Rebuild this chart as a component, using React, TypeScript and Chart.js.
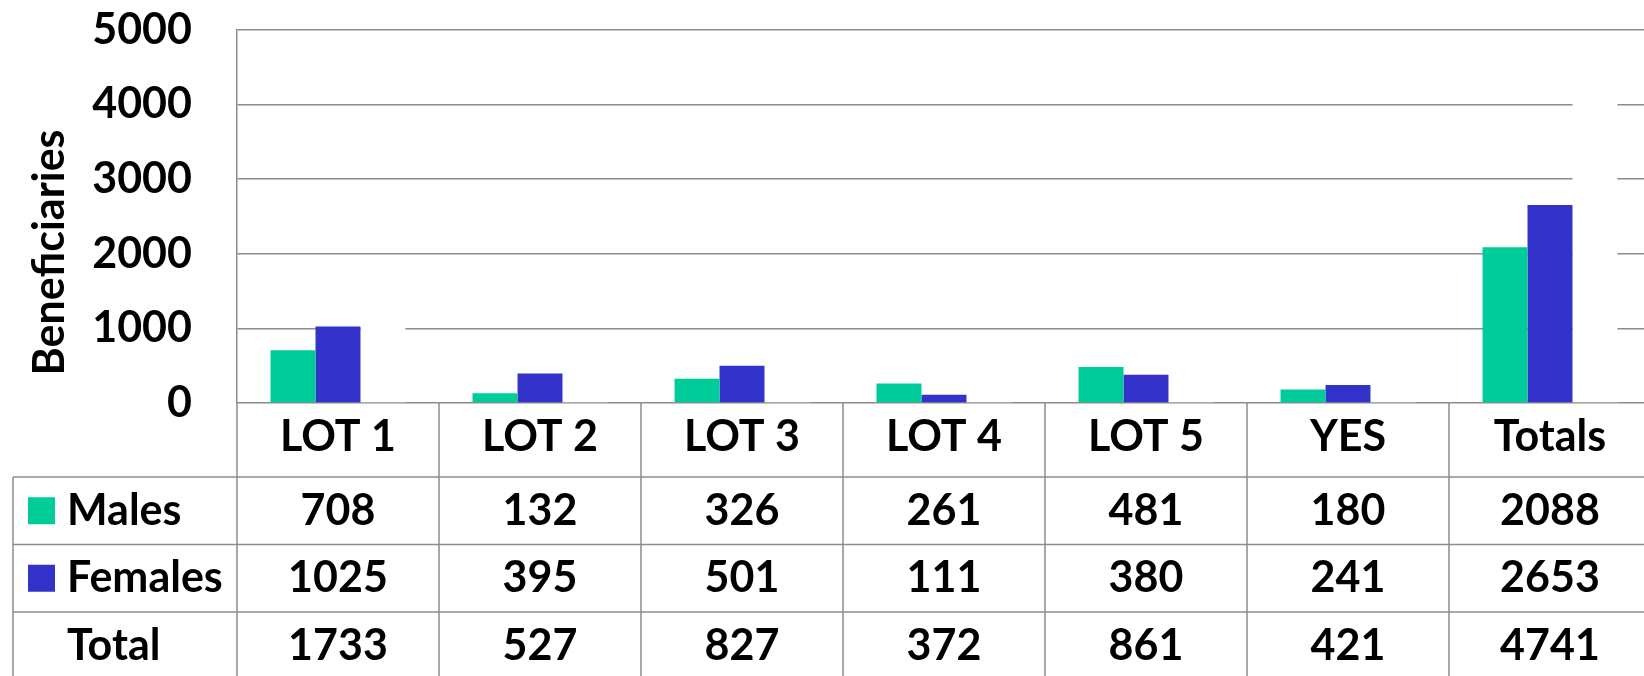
import React, { useEffect, useRef } from "react";
import { Chart, registerables } from "chart.js";

Chart.register(...registerables);

const categories = ["LOT 1", "LOT 2", "LOT 3", "LOT 4", "LOT 5", "YES", "Totals"];
const males = [708, 132, 326, 261, 481, 180, 2088];
const females = [1025, 395, 501, 111, 380, 241, 2653];
const totals = [1733, 527, 827, 372, 861, 421, 4741];
const rowLabels = ["Males", "Females", "Total"];
const yMax = 5000;
const yStep = 1000;
const axisTitle = "Beneficiaries";

const GREEN = "#00CC99";
const BLUE = "#3333CC";
const GRID = "#8c8c8c";
const FONT = "Lato, 'Open Sans', sans-serif";
const FS = 43;

const tablePlugin = {
  id: "dataTable",
  afterDraw(chart: any) {
    const { ctx, chartArea, scales } = chart;
    const x = scales.x;
    const bottom = chartArea.bottom;
    const r0 = bottom + 74;
    const rh = 67.5;
    const colW = x.getPixelForValue(1) - x.getPixelForValue(0);
    const H = chart.height;
    const W = chart.width;
    ctx.save();
    ctx.strokeStyle = GRID;
    ctx.lineWidth = 1.5;
    const line = (x1: number, y1: number, x2: number, y2: number) => {
      ctx.beginPath();
      ctx.moveTo(x1, y1);
      ctx.lineTo(x2, y2);
      ctx.stroke();
    };
    for (let r = 0; r < 3; r++) line(13, r0 + rh * r, W, r0 + rh * r);
    line(13, r0, 13, H);
    line(chartArea.left, bottom, chartArea.left, H);
    for (let i = 0; i < categories.length; i++) {
      const bx = x.getPixelForValue(i) + colW / 2;
      line(bx, bottom, bx, H);
    }
    ctx.font = `bold ${FS}px ${FONT}`;
    ctx.textBaseline = "middle";
    const series = [males, females, totals];
    series.forEach((arr, r) => {
      const cy = r0 + rh * r + rh / 2;
      ctx.fillStyle = "#000";
      ctx.textAlign = "center";
      arr.forEach((v, i) => ctx.fillText(String(v), x.getPixelForValue(i), cy));
      ctx.textAlign = "left";
      ctx.fillText(rowLabels[r], 67, cy);
      if (r < 2) {
        ctx.fillStyle = r === 0 ? GREEN : BLUE;
        ctx.fillRect(28, cy - 13.5, 27, 27);
      }
    });
    // axis title
    ctx.fillStyle = "#000";
    ctx.translate(50, (chartArea.top + chartArea.bottom) / 2 + 36);
    ctx.rotate(-Math.PI / 2);
    ctx.textAlign = "center";
    ctx.fillText(axisTitle, 0, 0);
    ctx.restore();
  },
};

export default function App() {
  const ref = useRef<HTMLCanvasElement | null>(null);
  useEffect(() => {
    if (!ref.current) return;
    const chart = new Chart(ref.current, {
      type: "bar",
      data: {
        labels: categories,
        datasets: [
          { label: "Males", data: males, backgroundColor: GREEN },
          { label: "Females", data: females, backgroundColor: BLUE },
          { label: "Total", data: totals, backgroundColor: "#FFFFFF" },
        ],
      },
      options: {
        animation: false,
        responsive: false,
        layout: { padding: { top: 30, left: 0, right: 0, bottom: 0 } },
        datasets: { bar: { categoryPercentage: 0.668, barPercentage: 1 } },
        plugins: { legend: { display: false }, tooltip: { enabled: false } },
        scales: {
          x: {
            grid: { display: false, drawTicks: false },
            border: { display: true, color: GRID, width: 1.5 },
            ticks: {
              color: "#000",
              padding: 8,
              maxRotation: 0,
              font: { family: FONT, size: FS, weight: "bold" },
            },
            afterFit(scale: any) {
              scale.height = 273;
              scale.paddingLeft = 0;
              scale.paddingRight = 0;
            },
          },
          y: {
            min: 0,
            max: yMax,
            grid: {
              color: (c: any) => (c.tick && c.tick.value === 0 ? "rgba(0,0,0,0)" : GRID),
              lineWidth: 1.5,
              drawTicks: false,
            },
            border: { display: true, color: GRID, width: 1.5 },
            ticks: {
              stepSize: yStep,
              color: "#000",
              padding: 45,
              font: { family: FONT, size: FS, weight: "bold" },
              callback: (v: any) => String(v),
            },
            afterFit(scale: any) {
              scale.width = 237;
              scale.paddingTop = 0;
              scale.paddingBottom = 0;
            },
          },
        },
      },
      plugins: [tablePlugin],
    });
    return () => chart.destroy();
  }, []);
  return (
    <div style={{ position: "fixed", left: 0, top: 0, width: 1644, height: 676, overflow: "hidden", background: "#fff" }}>
      <canvas ref={ref} width={1651} height={676} style={{ display: "block" }} />
    </div>
  );
}
